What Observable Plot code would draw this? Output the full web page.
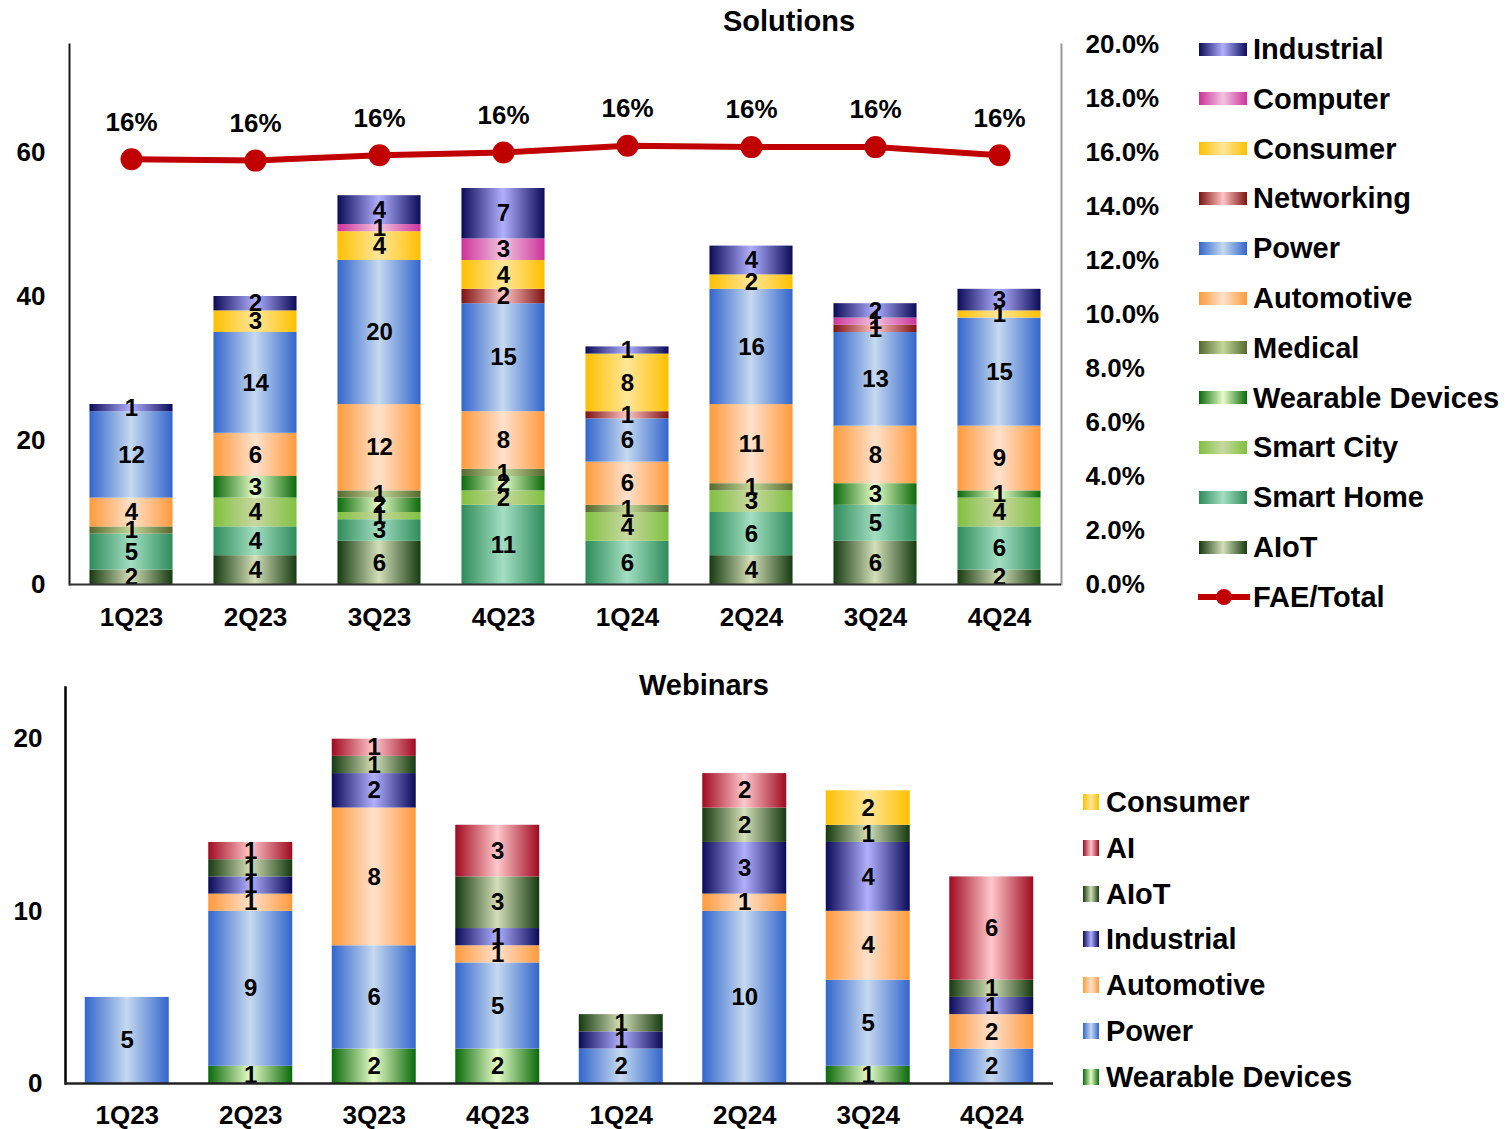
<!DOCTYPE html>
<html>
<head>
<meta charset="utf-8">
<script src="https://cdn.jsdelivr.net/npm/d3@7"></script>
<script src="https://cdn.jsdelivr.net/npm/@observablehq/plot@0.6"></script>
<style>
  html, body { margin: 0; padding: 0; background: #fff; }
  #root { position: relative; width: 1509px; height: 1129px; overflow: hidden;
          font-family: 'Liberation Sans', Arial, sans-serif; font-weight: bold; color: #000; }
  .abs { position: absolute; }
  .title { position: absolute; width: 400px; text-align: center; font-size: 29px; line-height: 34px; }
  .lg { position: absolute; display: flex; align-items: center; height: 40px; white-space: nowrap; }
  .lg span.t { font-size: 29px; line-height: 40px; }
</style>
</head>
<body>
<div id="root"></div>
<script>
// ---------- data ----------
const quarters = ["1Q23","2Q23","3Q23","4Q23","1Q24","2Q24","3Q24","4Q24"];

// Solutions (stack order bottom -> top)
const solSeries = ["AIoT","Smart Home","Smart City","Wearable Devices","Medical","Automotive","Power","Networking","Consumer","Computer","Industrial"];
const solAIoT       = [2, 4, 6, 0, 0, 4, 6, 2];
const solSmartHome  = [5, 4, 3, 11, 6, 6, 5, 6];
const solSmartCity  = [0, 4, 1, 2, 4, 3, 0, 4];
const solWearable   = [0, 3, 2, 2, 0, 0, 3, 1];
const solMedical    = [1, 0, 1, 1, 1, 1, 0, 0];
const solAutomotive = [4, 6, 12, 8, 6, 11, 8, 9];
const solPower      = [12, 14, 20, 15, 6, 16, 13, 15];
const solNetworking = [0, 0, 0, 2, 1, 0, 1, 0];
const solConsumer   = [0, 3, 4, 4, 8, 2, 0, 1];
const solComputer   = [0, 0, 1, 3, 0, 0, 1, 0];
const solIndustrial = [1, 2, 4, 7, 1, 4, 2, 3];
const faeTotalPct   = [15.75, 15.7, 15.9, 16.0, 16.25, 16.2, 16.2, 15.9];

// Webinars (stack order bottom -> top)
const webSeries = ["Wearable Devices","Power","Automotive","Industrial","AIoT","AI","Consumer"];
const webWearable   = [0, 1, 2, 2, 0, 0, 1, 0];
const webPower      = [5, 9, 6, 5, 2, 10, 5, 2];
const webAutomotive = [0, 1, 8, 1, 0, 1, 4, 2];
const webIndustrial = [0, 1, 2, 1, 1, 3, 4, 1];
const webAIoT       = [0, 1, 1, 3, 1, 2, 1, 1];
const webAI         = [0, 1, 1, 3, 0, 2, 0, 6];
const webConsumer   = [0, 0, 0, 0, 0, 0, 2, 0];

const solTicksLeft = [0, 20, 40, 60];
const solTicksRightPct = [0, 2, 4, 6, 8, 10, 12, 14, 16, 18, 20];
const webTicks = [0, 10, 20];

const solLegendOrder = ["Industrial","Computer","Consumer","Networking","Power","Automotive","Medical","Wearable Devices","Smart City","Smart Home","AIoT"];
const webLegendOrder = ["Consumer","AI","AIoT","Industrial","Automotive","Power","Wearable Devices"];

// gradient colours: [edge, centre]
const grad = {
  "Industrial":       ["#0b0b58", "#b0b0ff"],
  "Computer":         ["#cc3399", "#f2c4e2"],
  "Consumer":         ["#ffc000", "#ffe699"],
  "Networking":       ["#7f1212", "#ffc4c4"],
  "Power":            ["#3366cc", "#c5d9ef"],
  "Automotive":       ["#ff9a3c", "#fde1cc"],
  "Medical":          ["#55692e", "#c4d79b"],
  "Wearable Devices": ["#0b6a0b", "#e6fcc8"],
  "Smart City":       ["#80c040", "#c8d8a0"],
  "Smart Home":       ["#2f8c5a", "#a3dec2"],
  "AIoT":             ["#173a10", "#d3dfb8"],
  "AI":               ["#a00a20", "#ffc8cc"]
};
const slug = s => "g-" + s.replace(/\s+/g, "-");

// ---------- build tables ----------
const solArrays = {"AIoT": solAIoT, "Smart Home": solSmartHome, "Smart City": solSmartCity, "Wearable Devices": solWearable,
  "Medical": solMedical, "Automotive": solAutomotive, "Power": solPower, "Networking": solNetworking,
  "Consumer": solConsumer, "Computer": solComputer, "Industrial": solIndustrial};
const webArrays = {"Wearable Devices": webWearable, "Power": webPower, "Automotive": webAutomotive,
  "Industrial": webIndustrial, "AIoT": webAIoT, "AI": webAI, "Consumer": webConsumer};

function table(series, arrays) {
  const out = [];
  series.forEach(s => quarters.forEach((q, j) => { const v = arrays[s][j]; if (v > 0) out.push({q, s, v}); }));
  return out;
}
const solData = table(solSeries, solArrays);
const webData = table(webSeries, webArrays);
const fae = quarters.map((q, j) => ({q, p: faeTotalPct[j]}));

const FONT = "'Liberation Sans', Arial, sans-serif";
const Y_MAX = 75, PCT_MAX = 20;
const toY = p => p / PCT_MAX * Y_MAX;

function addDefs(svg) {
  const defs = d3.select(svg).insert("defs", ":first-child");
  Object.entries(grad).forEach(([k, [e, c]]) => {
    const g = defs.append("linearGradient").attr("id", slug(k)).attr("x1", 0).attr("x2", 1).attr("y1", 0).attr("y2", 0);
    g.append("stop").attr("offset", "0%").attr("stop-color", e);
    g.append("stop").attr("offset", "50%").attr("stop-color", c);
    g.append("stop").attr("offset", "100%").attr("stop-color", e);
  });
}

// ---------- Solutions ----------
const topChart = Plot.plot({
  width: 1509, height: 650,
  marginTop: 44, marginBottom: 66, marginLeft: 69, marginRight: 448,
  style: {fontFamily: FONT, fontWeight: "bold", fontSize: "26px", color: "#000", background: "transparent", overflow: "visible"},
  x: {domain: quarters, paddingInner: 0.33, paddingOuter: 0.165, round: false, label: null},
  y: {domain: [0, Y_MAX], label: null},
  color: {domain: solSeries, range: solSeries.map(s => `url(#${slug(s)})`)},
  marks: [
    Plot.barY(solData, Plot.stackY({x: "q", y: "v", z: "s", fill: "s", order: solSeries})),
    Plot.text(solData, Plot.stackY({x: "q", y: "v", z: "s", text: "v", order: solSeries, fontSize: 24, fill: "#000"})),
    Plot.axisX({tickSize: 0, tickPadding: 23, fontSize: 26, label: null}),
    Plot.axisY({ticks: solTicksLeft, tickSize: 0, tickPadding: 24, fontSize: 26, label: null}),
    Plot.axisY({anchor: "right", ticks: solTicksRightPct.map(toY), tickFormat: v => (v / Y_MAX * PCT_MAX).toFixed(1) + "%",
                tickSize: 0, tickPadding: 24, fontSize: 26, label: null}),
    Plot.frame({anchor: "left", stroke: "#1a1a1a", strokeWidth: 2}),
    Plot.frame({anchor: "right", stroke: "#999", strokeWidth: 2}),
    Plot.ruleY([0], {stroke: "#333", strokeWidth: 2}),
    Plot.line(fae, {x: "q", y: d => toY(d.p), stroke: "#c00000", strokeWidth: 6}),
    Plot.dot(fae, {x: "q", y: d => toY(d.p), r: 11, fill: "#c00000", stroke: "none"}),
    Plot.text(fae, {x: "q", y: d => toY(d.p), text: d => Math.round(d.p) + "%", dy: -37, fontSize: 26, fill: "#000"})
  ]
});
addDefs(topChart);

// ---------- Webinars ----------
const WEB_MAX = 23;
const botChart = Plot.plot({
  width: 1509, height: 479,
  marginTop: 37, marginBottom: 46, marginLeft: 65, marginRight: 456,
  style: {fontFamily: FONT, fontWeight: "bold", fontSize: "26px", color: "#000", background: "transparent", overflow: "visible"},
  x: {domain: quarters, paddingInner: 0.32, paddingOuter: 0.16, round: false, label: null},
  y: {domain: [0, WEB_MAX], label: null},
  color: {domain: webSeries, range: webSeries.map(s => `url(#${slug(s)})`)},
  marks: [
    Plot.barY(webData, Plot.stackY({x: "q", y: "v", z: "s", fill: "s", order: webSeries})),
    Plot.text(webData, Plot.stackY({x: "q", y: "v", z: "s", text: "v", order: webSeries, fontSize: 24, fill: "#000"})),
    Plot.axisX({tickSize: 0, tickPadding: 22, fontSize: 26, label: null}),
    Plot.axisY({ticks: webTicks, tickSize: 0, tickPadding: 23, fontSize: 26, label: null}),
    Plot.frame({anchor: "left", stroke: "#000", strokeWidth: 2.5}),
    Plot.ruleY([0], {stroke: "#222", strokeWidth: 2.5})
  ]
});
addDefs(botChart);

// ---------- assemble ----------
const root = document.getElementById("root");
function place(el, left, top) { const d = document.createElement("div"); d.className = "abs"; d.style.left = left + "px"; d.style.top = top + "px"; d.appendChild(el); root.appendChild(d); return d; }
place(topChart, 0, 0);
place(botChart, 0, 650);

function title(text, cx, cy) {
  const t = document.createElement("div"); t.className = "title"; t.textContent = text;
  t.style.left = (cx - 200) + "px"; t.style.top = (cy - 17) + "px"; root.appendChild(t);
}
title("Solutions", 789, 21);
title("Webinars", 704, 685);

const cssGrad = s => `linear-gradient(to right, ${grad[s][0]}, ${grad[s][1]} 50%, ${grad[s][0]})`;

// top legend
solLegendOrder.forEach((s, i) => {
  const cy = 49 + i * 49.8;
  const row = document.createElement("div"); row.className = "lg";
  row.style.left = "1199px"; row.style.top = (cy - 20) + "px";
  const sw = document.createElement("span");
  sw.style.cssText = `display:inline-block;width:48px;height:13px;margin-right:6px;background:${cssGrad(s)}`;
  const tx = document.createElement("span"); tx.className = "t"; tx.textContent = s;
  row.appendChild(sw); row.appendChild(tx); root.appendChild(row);
});
{
  const cy = 49 + 11 * 49.8;
  const row = document.createElement("div"); row.className = "lg";
  row.style.left = "1196px"; row.style.top = (cy - 20) + "px";
  row.innerHTML = `<svg width="56" height="24" style="margin-right:1px"><line x1="2" y1="12" x2="54" y2="12" stroke="#c00000" stroke-width="6"/><circle cx="28" cy="12" r="8" fill="#c00000"/></svg><span class="t">FAE/Total</span>`;
  root.appendChild(row);
}

// bottom legend
webLegendOrder.forEach((s, i) => {
  const cy = 802 + i * 45.8;
  const row = document.createElement("div"); row.className = "lg";
  row.style.left = "1083px"; row.style.top = (cy - 20) + "px";
  const sw = document.createElement("span");
  sw.style.cssText = `display:inline-block;width:16px;height:16px;margin-right:7px;background:${cssGrad(s)}`;
  const tx = document.createElement("span"); tx.className = "t"; tx.textContent = s;
  row.appendChild(sw); row.appendChild(tx); root.appendChild(row);
});
</script>
</body>
</html>
